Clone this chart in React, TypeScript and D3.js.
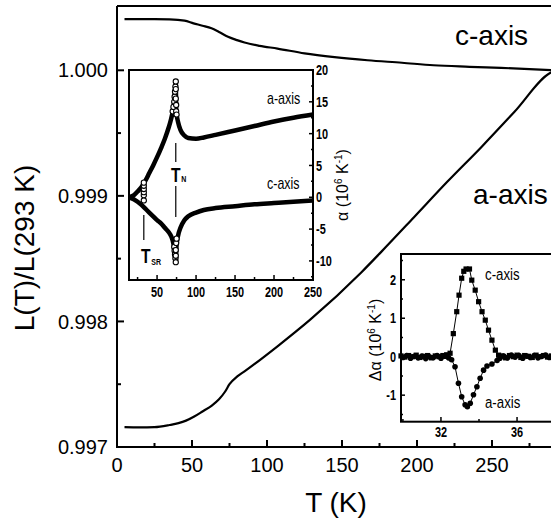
import * as d3 from "d3";

// main panel: L(T)/L(293 K)
const cAxisT = [5, 15, 25, 35, 45, 51, 57, 63, 68, 74, 80, 85, 95, 107, 125, 145, 167, 190, 211, 235, 256, 275, 293];
const cAxisL = [1.000408, 1.000408, 1.000408, 1.000406, 1.000395, 1.000374, 1.000355, 1.000334, 1.000305, 1.000267, 1.00024, 1.000221, 1.000195, 1.000173, 1.000135, 1.000105, 1.00008, 1.00006, 1.00004, 1.000028, 1.000019, 1.00001, 1.0];
const aAxisT = [5, 15, 25, 35, 41, 46, 51.5, 57, 63, 68, 72, 75, 80, 85, 107, 129, 163, 176, 198, 220, 243, 265, 289, 293];
const aAxisL = [0.997158, 0.997156, 0.997158, 0.997175, 0.99719, 0.99721, 0.997243, 0.997283, 0.997328, 0.99738, 0.99744, 0.9975, 0.99756, 0.997602, 0.997802, 0.998016, 0.998392, 0.998552, 0.99883, 0.99911, 0.99939, 0.99967, 0.99998, 1.0];
const mainXMajor = [0, 50, 100, 150, 200, 250];
const mainXMinor = [25, 75, 125, 175, 225, 275];
const mainYMajor = [0.997, 0.998, 0.999, 1.0];
const mainYMinor = [0.9975, 0.9985, 0.9995];

// inset 1: alpha (10^6 K^-1)
const alphaAT = [14, 20, 25, 30, 35, 40, 45, 50, 55, 60, 65, 68, 70, 72, 73, 74, 74.5, 75, 77, 80, 85, 90, 100, 110, 125, 150, 175, 200, 225, 250];
const alphaA = [0, 0.3, 0.9, 1.6, 2.6, 3.8, 5.0, 6.3, 7.7, 9.2, 11.0, 12.3, 13.4, 15.0, 16.5, 18.2, 14.0, 13.2, 11.8, 10.6, 9.7, 9.3, 9.2, 9.4, 9.8, 10.5, 11.2, 11.9, 12.5, 13.0];
const alphaCT = [14, 20, 25, 30, 35, 40, 45, 50, 55, 60, 65, 68, 70, 72, 73, 74, 75, 77, 80, 85, 90, 100, 110, 125, 150, 175, 200, 225, 250];
const alphaC = [0, -0.3, -0.7, -1.2, -1.8, -2.4, -3.0, -3.6, -4.1, -4.8, -5.5, -6.1, -6.8, -8.0, -9.0, -10.2, -7.5, -6.0, -4.8, -3.6, -3.0, -2.4, -2.0, -1.7, -1.4, -1.1, -0.9, -0.7, -0.5];
const spikeT = [70, 71, 72, 72.5, 73, 73.5, 74, 74, 74, 74.5, 74.5, 75, 72, 72.5, 73, 73.5, 74, 74, 74, 74.5, 75, 33, 33, 33, 33, 33, 33];
const spikeV = [13.5, 14.2, 15.0, 15.8, 16.6, 17.4, 18.2, 17.0, 15.5, 14.5, 13.5, 13.0, -7.8, -8.4, -9.0, -9.6, -10.2, -9.2, -8.3, -7.2, -6.5, 0.3, 0.8, 1.3, 1.8, 2.3, -0.5];
const in1XMajor = [50, 100, 150, 200, 250];
const in1XMinor = [25, 75, 125, 175, 225];
const in1YMajor = [-10, -5, 0, 5, 10, 15, 20];
const in1YMinor = [-12.5, -7.5, -2.5, 2.5, 7.5, 12.5, 17.5];

// inset 2: delta alpha
const dcT = [29.9, 30.1, 30.3, 30.5, 30.7, 30.9, 31.1, 31.3, 31.5, 31.7, 31.9, 32.1, 32.3, 32.48, 32.65, 32.83, 32.95, 33.09, 33.2, 33.32, 33.5, 33.62, 33.8, 33.98, 34.16, 34.33, 34.5, 34.68, 34.86, 35.03, 35.2, 35.4, 35.6, 35.8, 36.0, 36.2, 36.4, 36.6, 36.8, 37.0, 37.2, 37.4, 37.6, 37.8, 38.0];
const dcV = [0.02, -0.01, 0.03, 0.0, 0.04, -0.02, 0.01, 0.03, -0.03, 0.02, 0.0, 0.03, 0.05, 0.09, 0.6, 1.17, 1.6, 2.04, 2.22, 2.28, 2.28, 1.99, 1.73, 1.43, 1.17, 0.95, 0.69, 0.43, 0.17, 0.04, 0.02, -0.03, 0.03, 0.0, 0.04, -0.02, 0.03, 0.01, -0.02, 0.04, 0.0, 0.03, -0.01, 0.02, 0.01];
const daT = [30.0, 30.2, 30.4, 30.6, 30.8, 31.0, 31.2, 31.4, 31.6, 31.8, 32.0, 32.2, 32.4, 32.56, 32.74, 32.92, 33.09, 33.27, 33.39, 33.54, 33.71, 33.89, 34.06, 34.24, 34.42, 34.68, 34.95, 35.1, 35.3, 35.5, 35.7, 35.9, 36.1, 36.3, 36.5, 36.7, 36.9, 37.1, 37.3, 37.5, 37.7, 37.9];
const daV = [-0.02, 0.03, -0.04, 0.01, -0.03, 0.02, -0.05, 0.0, -0.02, 0.03, -0.04, 0.01, -0.03, -0.08, -0.26, -0.69, -1.04, -1.25, -1.3, -1.21, -0.99, -0.78, -0.56, -0.35, -0.24, -0.19, -0.1, -0.04, 0.02, -0.03, 0.04, -0.01, 0.03, -0.04, 0.02, -0.02, 0.03, -0.03, 0.01, 0.04, -0.02, 0.02];
const in2XMajor = [32, 36];
const in2XMinor = [30, 34, 38];
const in2YMajor = [-1, 0, 1, 2];
const in2YMinor = [-1.5, -0.5, 0.5, 1.5, 2.5];

const SANS = "'Liberation Sans', Arial, Helvetica, sans-serif";

// condensed text (the insets use a narrow face)
function NT(props: { x: number; y: number; size: number; anchor?: string; bold?: boolean; dy?: string; children: any }) {
  return (
    <text
      transform={`translate(${props.x},${props.y}) scale(0.78,1)`}
      fontSize={props.size}
      textAnchor={props.anchor || "start"}
      fontWeight={props.bold ? "bold" : "normal"}
      dy={props.dy}
    >
      {props.children}
    </text>
  );
}

export default function App() {
  const W = 551;
  const H = 520;

  const x = d3.scaleLinear().domain([0, 300]).range([117, 567]);
  const y = d3.scaleLinear().domain([0.997, 1.000512]).range([447, 6]);
  const mainLine = d3.line<[number, number]>().x((d) => x(d[0])).y((d) => y(d[1])).curve(d3.curveMonotoneX);
  const cPath = mainLine(cAxisT.map((t, i) => [t, cAxisL[i]]))!;
  const aPath = mainLine(aAxisT.map((t, i) => [t, aAxisL[i]]))!;

  // inset 1
  const x1 = d3.scaleLinear().domain([14, 250]).range([129, 313]);
  const y1 = d3.scaleLinear().domain([-13, 20]).range([280, 70]);
  const in1Line = d3.line<[number, number]>().x((d) => x1(d[0])).y((d) => y1(d[1])).curve(d3.curveMonotoneX);
  const aBand = in1Line(alphaAT.map((t, i) => [t, alphaA[i]]))!;
  const cBand = in1Line(alphaCT.map((t, i) => [t, alphaC[i]]))!;

  // inset 2
  const x2 = d3.scaleLinear().domain([29.9, 38.1]).range([401, 557]);
  const y2 = d3.scaleLinear().domain([-1.69, 2.67]).range([421.7, 254]);
  const in2Line = d3.line<[number, number]>().x((d) => x2(d[0])).y((d) => y2(d[1]));
  const dcPath = in2Line(dcT.map((t, i) => [t, dcV[i]]))!;
  const daPath = in2Line(daT.map((t, i) => [t, daV[i]]))!;

  return (
    <svg width={W} height={H} style={{ position: "absolute", left: 0, top: 0, background: "#fff" }} fontFamily={SANS}>
      {/* main frame */}
      <path d={`M${x(0)},${y.range()[1]}V${y.range()[0]}H${W + 10}M${x(0)},${y.range()[1]}H${W + 10}`} fill="none" stroke="#000" strokeWidth={2} />
      {mainXMajor.map((t) => (
        <g key={"mx" + t}>
          <line x1={x(t)} x2={x(t)} y1={447} y2={440} stroke="#000" strokeWidth={2} />
          <text x={x(t)} y={472} fontSize={20} textAnchor="middle">{t}</text>
        </g>
      ))}
      {mainXMinor.map((t) => (
        <line key={"mxm" + t} x1={x(t)} x2={x(t)} y1={447} y2={443} stroke="#000" strokeWidth={2} />
      ))}
      {mainYMajor.map((v) => (
        <g key={"my" + v}>
          <line x1={x(0)} x2={x(0) + 7} y1={y(v)} y2={y(v)} stroke="#000" strokeWidth={2} />
          <text x={108} y={y(v)} dy="0.36em" fontSize={20} textAnchor="end">{d3.format(".3f")(v)}</text>
        </g>
      ))}
      {mainYMinor.map((v) => (
        <line key={"mym" + v} x1={x(0)} x2={x(0) + 4} y1={y(v)} y2={y(v)} stroke="#000" strokeWidth={2} />
      ))}
      <text x={336} y={512} fontSize={28} textAnchor="middle">T (K)</text>
      <text transform="translate(34,248) rotate(-90)" fontSize={28} textAnchor="middle">L(T)/L(293 K)</text>

      <path d={cPath} fill="none" stroke="#000" strokeWidth={2.2} />
      <path d={aPath} fill="none" stroke="#000" strokeWidth={2.2} />
      <text x={455} y={45} fontSize={28}>c-axis</text>
      <text x={473} y={204} fontSize={28}>a-axis</text>

      {/* inset 1 */}
      <rect x={129} y={70} width={184} height={210} fill="#fff" stroke="#000" strokeWidth={2} />
      <path d={aBand} fill="none" stroke="#000" strokeWidth={4.5} strokeLinejoin="round" />
      <path d={cBand} fill="none" stroke="#000" strokeWidth={4.5} strokeLinejoin="round" />
      {spikeT.map((t, i) => (
        <circle key={"sp" + i} cx={x1(t)} cy={y1(spikeV[i])} r={2.6} fill="#fff" stroke="#000" strokeWidth={1.1} />
      ))}
      {in1XMajor.map((t) => (
        <g key={"ix" + t}>
          <line x1={x1(t)} x2={x1(t)} y1={280} y2={275} stroke="#000" strokeWidth={1.5} />
          <NT x={x1(t)} y={297} size={14} bold anchor="middle">{t}</NT>
        </g>
      ))}
      {in1XMinor.map((t) => (
        <line key={"ixm" + t} x1={x1(t)} x2={x1(t)} y1={280} y2={277} stroke="#000" strokeWidth={1.5} />
      ))}
      {in1YMajor.map((v) => (
        <g key={"iy" + v}>
          <line x1={313} x2={309} y1={y1(v)} y2={y1(v)} stroke="#000" strokeWidth={1.5} />
          <NT x={316} y={y1(v)} dy="0.36em" size={14} bold>{v}</NT>
        </g>
      ))}
      {in1YMinor.map((v) => (
        <line key={"iym" + v} x1={313} x2={311} y1={y1(v)} y2={y1(v)} stroke="#000" strokeWidth={1.5} />
      ))}
      <text transform="translate(348,185) rotate(-90)" fontSize={16} textAnchor="middle">
        α  (10<tspan fontSize={10} dy={-6}>6</tspan><tspan dy={6}> K</tspan><tspan fontSize={10} dy={-6}>-1</tspan><tspan dy={6}>)</tspan>
      </text>
      <NT x={267} y={104} size={16}>a-axis</NT>
      <NT x={267} y={189} size={16}>c-axis</NT>
      <line x1={x1(74)} x2={x1(74)} y1={143} y2={162} stroke="#000" strokeWidth={1.2} />
      <line x1={x1(74)} x2={x1(74)} y1={186} y2={217} stroke="#000" strokeWidth={1.2} />
      <NT x={171} y={182} size={20} bold>T<tspan fontSize={9} dx={1}>N</tspan></NT>
      <line x1={x1(33)} x2={x1(33)} y1={215} y2={240} stroke="#000" strokeWidth={1.2} />
      <NT x={141} y={263} size={20} bold>T<tspan fontSize={9} dx={1} dy={2}>SR</tspan></NT>

      {/* inset 2 */}
      <rect x={401} y={254} width={170} height={167.7} fill="#fff" stroke="#000" strokeWidth={2} />
      <path d={dcPath} fill="none" stroke="#000" strokeWidth={1} />
      <path d={daPath} fill="none" stroke="#000" strokeWidth={1} />
      {dcT.map((t, i) => (
        <rect key={"dc" + i} x={x2(t) - 2.6} y={y2(dcV[i]) - 2.6} width={5.2} height={5.2} fill="#000" />
      ))}
      {daT.map((t, i) => (
        <circle key={"da" + i} cx={x2(t)} cy={y2(daV[i])} r={2.8} fill="#000" />
      ))}
      {in2XMajor.map((t) => (
        <g key={"jx" + t}>
          <line x1={x2(t)} x2={x2(t)} y1={421.7} y2={417} stroke="#000" strokeWidth={1.5} />
          <NT x={x2(t)} y={437} size={14} bold anchor="middle">{t}</NT>
        </g>
      ))}
      {in2XMinor.map((t) => (
        <line key={"jxm" + t} x1={x2(t)} x2={x2(t)} y1={421.7} y2={419} stroke="#000" strokeWidth={1.5} />
      ))}
      {in2YMajor.map((v) => (
        <g key={"jy" + v}>
          <line x1={401} x2={405} y1={y2(v)} y2={y2(v)} stroke="#000" strokeWidth={1.5} />
          <NT x={396} y={y2(v)} dy="0.36em" size={14} bold anchor="end">{v}</NT>
        </g>
      ))}
      {in2YMinor.map((v) => (
        <line key={"jym" + v} x1={401} x2={403} y1={y2(v)} y2={y2(v)} stroke="#000" strokeWidth={1.5} />
      ))}
      <text transform="translate(381,340) rotate(-90)" fontSize={16} textAnchor="middle">
        Δα  (10<tspan fontSize={10} dy={-6}>6</tspan><tspan dy={6}> K</tspan><tspan fontSize={10} dy={-6}>-1</tspan><tspan dy={6}>)</tspan>
      </text>
      <NT x={485} y={280} size={17}>c-axis</NT>
      <NT x={485} y={408} size={17}>a-axis</NT>
    </svg>
  );
}
